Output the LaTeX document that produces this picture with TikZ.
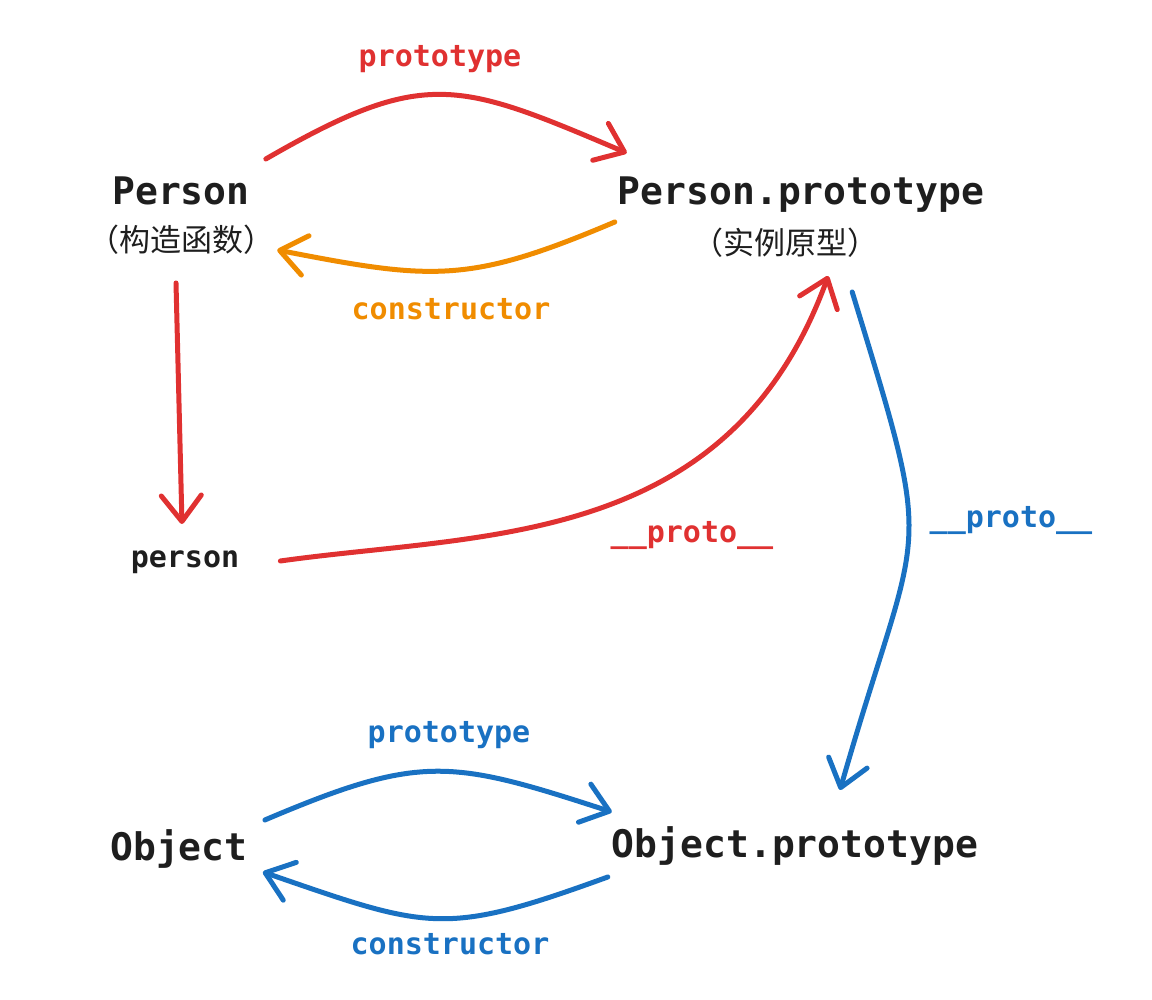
\documentclass[tikz,border=0pt]{standalone}
\usepackage{fontspec}
\setmonofont{DejaVu Sans Mono}
\newfontfamily\cjkfont{Noto Sans CJK SC}
\usetikzlibrary{arrows.meta}
\definecolor{inkred}{HTML}{E03131}
\definecolor{inkorange}{HTML}{F08C00}
\definecolor{inkblue}{HTML}{1971C2}
\definecolor{inkblack}{HTML}{1E1E1E}

\begin{document}
\begin{tikzpicture}[x=1pt,y=1pt,
        main node/.style={inner sep=0pt,anchor=base,text=inkblack,
            font=\ttfamily\bfseries\fontsize{38}{44}\selectfont},
        small node/.style={inner sep=0pt,anchor=base,text=inkblack,
            font=\ttfamily\bfseries\fontsize{30}{36}\selectfont},
        sub node/.style={inner sep=0pt,text=inkblack,
            font=\cjkfont\fontsize{31}{36}\selectfont},
        link label/.style={inner sep=0pt,anchor=base,
            font=\ttfamily\bfseries\fontsize{30}{36}\selectfont},
        link/.style={line width=5pt,line cap=round,line join=round,
            -{Straight Barb[length=26pt,width=40pt,round]}}]
    \useasboundingbox (0,0) rectangle (1152,1000);

    \node[main node] (Person) at (181,795) {Person};
    \node[sub node] (PersonSub) at (181,760) {（构造函数）};
    \node[main node] (PersonProto) at (801,795) {Person.prototype};
    \node[sub node] (ProtoSub) at (785,757) {（实例原型）};
    \node[small node] (person) at (185,432) {person};
    \node[main node] (Object) at (179,139) {Object};
    \node[main node] (ObjectProto) at (795,142) {Object.prototype};

    \node[link label,text=inkred] (protoLabel) at (440,933) {prototype};
    \node[link label,text=inkorange] (ctorLabel) at (451,680) {constructor};
    \node[link label,text=inkred] (dunderRed) at (692,457) {\_\_proto\_\_};
    \node[link label,text=inkblue] (dunderBlue) at (1011,472) {\_\_proto\_\_};
    \node[link label,text=inkblue] (objProtoLabel) at (449,257) {prototype};
    \node[link label,text=inkblue] (objCtorLabel) at (450,45) {constructor};

    % Person <-> Person.prototype
    \draw[link,inkred] ([shift={(16,46)}]Person.base east)
        to[out=30,in=157,looseness=1.3] ([shift={(9,52)}]PersonProto.base west);
    \draw[link,inkorange] ([shift={(-3,-17)}]PersonProto.base west)
        to[out=203,in=-11,looseness=1.2] ([shift={(3,-10)}]PersonSub.east);
    % instance
    \draw[link,inkred] ([shift={(-5,-78)}]Person.base)
        -- ([shift={(-3,44)}]person.base);
    \draw[link,inkred] ([shift={(41,7)}]person.base east)
        to[out=8,in=250,out looseness=0.85,in looseness=1.2] ([shift={(-50,-33)}]ProtoSub.east);
    % down the chain
    \draw[link,inkblue] ([shift={(-26,-49)}]ProtoSub.east)
        to[out=-73,in=74,looseness=1.5] ([shift={(45,68)}]ObjectProto.base);
    % Object <-> Object.prototype
    \draw[link,inkblue] ([shift={(17,41)}]Object.base east)
        to[out=23,in=162,looseness=1.25] ([shift={(0,46)}]ObjectProto.base west);
    \draw[link,inkblue] ([shift={(-4,-19)}]ObjectProto.base west)
        to[out=200,in=-19,looseness=1.3] ([shift={(15,-11)}]Object.base east);
\end{tikzpicture}
\end{document}
